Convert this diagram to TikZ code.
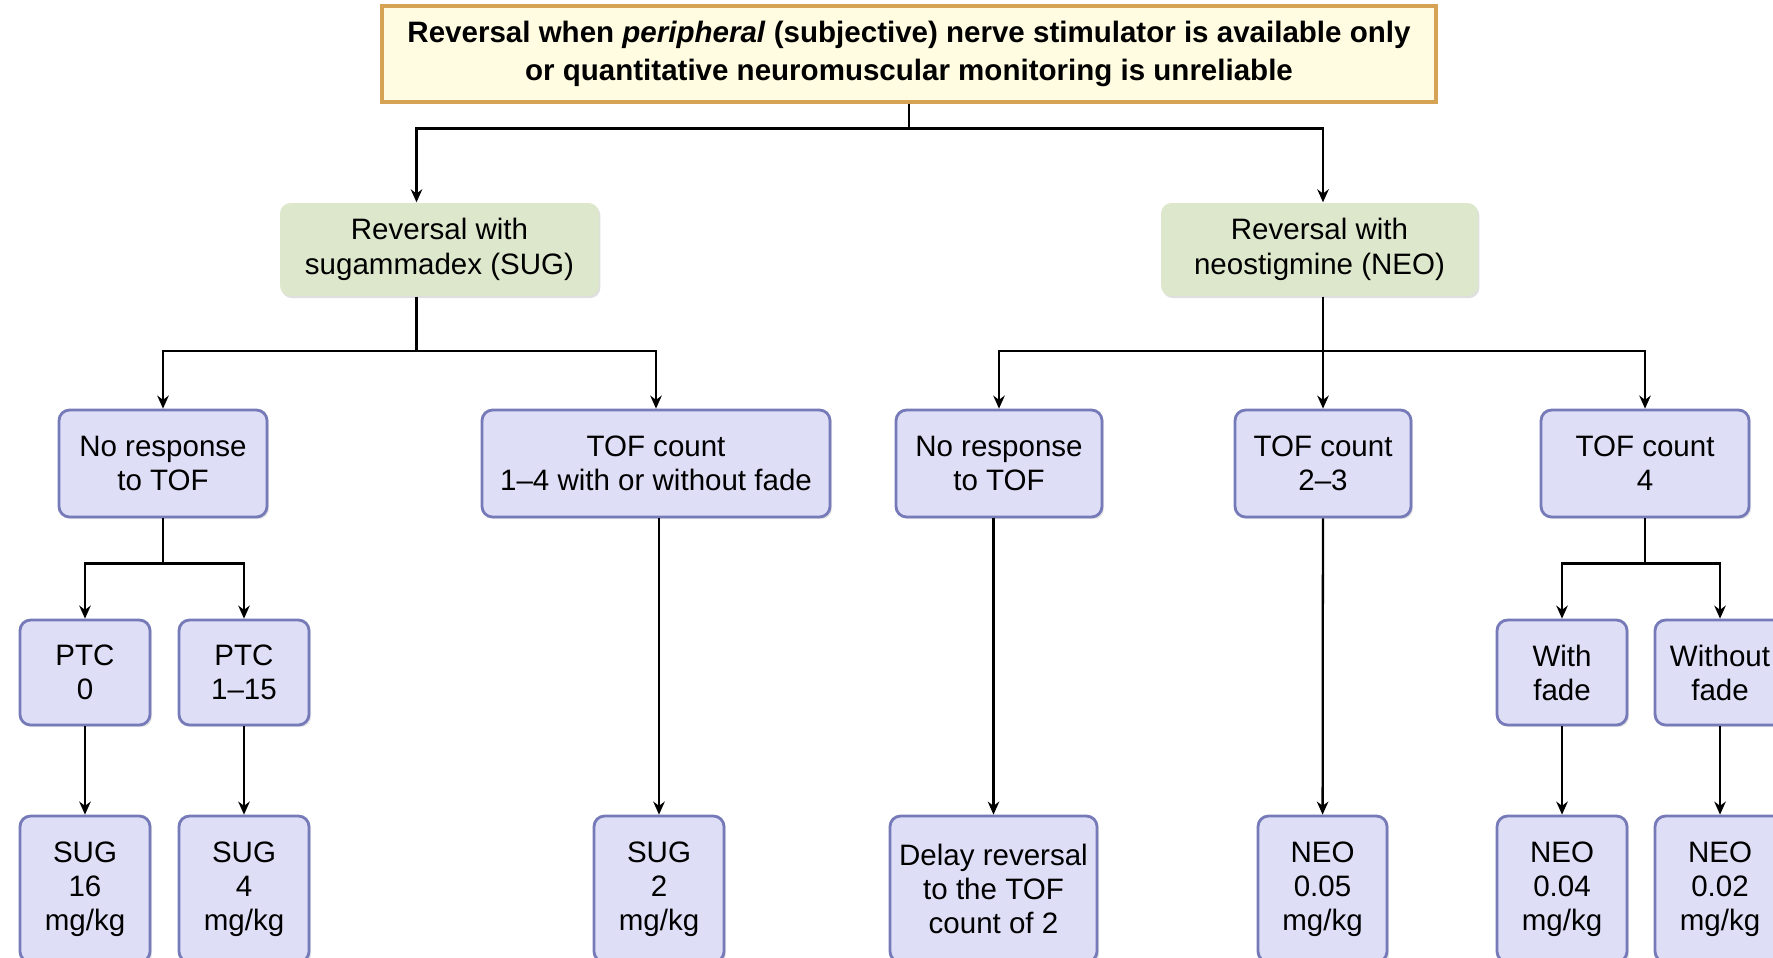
\documentclass[tikz,border=0pt]{standalone}
\usepackage{fontspec}
\setmainfont{Liberation Sans}
\usepackage{tikz}
\usetikzlibrary{arrows.meta,positioning,calc,shadows}
\usepackage{xcolor}
\definecolor{TopFill}{RGB}{255,252,226}
\definecolor{TopLine}{RGB}{214,162,84}
\definecolor{SoftGreen}{RGB}{221,231,203}
\definecolor{Lavender}{RGB}{222,222,246}
\definecolor{Slate}{RGB}{118,122,184}

\begin{document}
\begin{tikzpicture}[
  x=1cm,y=-1cm,
  topbox/.style={draw=TopLine,fill=TopFill,line width=0.9pt,
              minimum width=10.54cm,minimum height=0.96cm,align=center,
              font=\fontsize{8.4}{10.8}\selectfont\bfseries},
  drug/.style={fill=SoftGreen,rounded corners=3pt,minimum height=0.93cm,
              align=center,font=\fontsize{8.4}{10}\selectfont,
              drop shadow={shadow xshift=0.4pt,shadow yshift=-0.6pt,opacity=0.25}},
  box/.style={draw=Slate,fill=Lavender,line width=0.8pt,rounded corners=3pt,
              align=center,inner sep=1pt,font=\fontsize{8.4}{9.7}\selectfont,
              drop shadow={shadow xshift=0.6pt,shadow yshift=-0.6pt,opacity=0.2}},
  line/.style={line width=0.65pt,black},
  arr/.style={line,-{Stealth[length=1.3mm,width=1.15mm]}},
]
\clip (0,0) rectangle (17.73,9.57);
\fill[white] (0,0) rectangle (17.73,9.57);

\node[topbox] (top) at (9.09,0.54)
  {Reversal when \textit{peripheral} (subjective) nerve stimulator is available only\\
   or quantitative neuromuscular monitoring is unreliable};

\node[drug,minimum width=3.19cm] (sug) at (4.395,2.495) {Reversal with\\sugammadex (SUG)};
\node[drug,minimum width=3.17cm] (neo) at (13.195,2.495) {Reversal with\\neostigmine (NEO)};

% third row
\node[box,minimum width=2.08cm,minimum height=1.07cm] (norespA) at (1.63,4.635) {No response\\to TOF};
\node[box,minimum width=3.48cm,minimum height=1.07cm] (tofA) at (6.56,4.635) {TOF count\\1--4 with or without fade};
\node[box,minimum width=2.06cm,minimum height=1.07cm] (norespB) at (9.99,4.635) {No response\\to TOF};
\node[box,minimum width=1.76cm,minimum height=1.07cm] (tofB) at (13.23,4.635) {TOF count\\2--3};
\node[box,minimum width=2.08cm,minimum height=1.07cm] (tofC) at (16.45,4.635) {TOF count\\4};

% fourth row
\node[box,minimum width=1.30cm,minimum height=1.05cm] (ptcA) at (0.85,6.725) {PTC\\0};
\node[box,minimum width=1.30cm,minimum height=1.05cm] (ptcB) at (2.44,6.725) {PTC\\1--15};
\node[box,minimum width=1.30cm,minimum height=1.05cm] (fade) at (15.62,6.725) {With\\fade};
\node[box,minimum width=1.30cm,minimum height=1.05cm] (nofade) at (17.20,6.725) {Without\\fade};

% doses
\node[box,minimum width=1.30cm,minimum height=1.46cm] (dsugA) at (0.85,8.89) {SUG\\16\\mg/kg};
\node[box,minimum width=1.30cm,minimum height=1.46cm] (dsugB) at (2.44,8.89) {SUG\\4\\mg/kg};
\node[box,minimum width=1.30cm,minimum height=1.46cm] (dsugC) at (6.59,8.89) {SUG\\2\\mg/kg};
\node[box,minimum width=2.07cm,minimum height=1.46cm] (delay) at (9.935,8.89) {Delay reversal\\to the TOF\\count of 2};
\node[box,minimum width=1.29cm,minimum height=1.46cm] (dneoA) at (13.225,8.89) {NEO\\0.05\\mg/kg};
\node[box,minimum width=1.30cm,minimum height=1.46cm] (dneoB) at (15.62,8.89) {NEO\\0.04\\mg/kg};
\node[box,minimum width=1.30cm,minimum height=1.46cm] (dneoC) at (17.20,8.89) {NEO\\0.02\\mg/kg};

\coordinate (sugin) at ($(sug.north)+(-0.23,0)$);
\coordinate (sugout) at ($(sug.south)+(-0.23,0)$);
\coordinate (neoin) at (neo.north -| tofB);
\coordinate (neoout) at (neo.south -| tofB);

\draw[arr] (top.south) -- ++(0,0.25) -| (sugin);
\draw[arr] (top.south) -- ++(0,0.25) -| (neoin);
\draw[arr] (sugout) -- ++(0,0.54) -| (norespA);
\draw[arr] (sugout) -- ++(0,0.54) -| (tofA);
\draw[arr] (neoout) -- (tofB);
\draw[arr] (neoout) -- ++(0,0.54) -| (norespB);
\draw[arr] (neoout) -- ++(0,0.54) -| (tofC);
\draw[arr] (norespA.south) -- ++(0,0.45) -| (ptcA);
\draw[arr] (norespA.south) -- ++(0,0.45) -| (ptcB);
\draw[arr] (tofC.south) -- ++(0,0.45) -| (fade);
\draw[arr] (tofC.south) -- ++(0,0.45) -| (nofade);
\draw[arr] (ptcA) -- (dsugA);
\draw[arr] (ptcB) -- (dsugB);
\draw[arr] (tofA.south -| dsugC) -- (dsugC);
\draw[arr] (norespB.south -| delay) -- (delay);
\draw[arr] (tofB) -- (dneoA);
\draw[arr] (fade) -- (dneoB);
\draw[arr] (nofade) -- (dneoC);
\end{tikzpicture}
\end{document}
